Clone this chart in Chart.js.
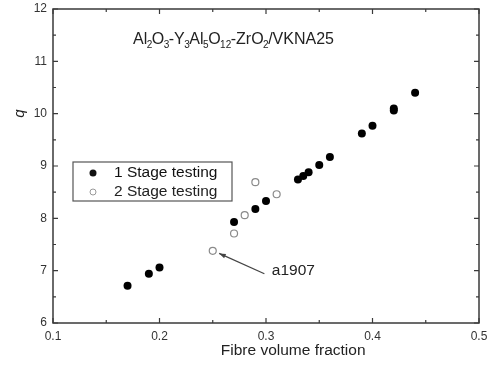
<!DOCTYPE html>
<html>
<head>
<meta charset="utf-8">
<script src="https://cdn.jsdelivr.net/npm/chart.js@4"></script>
<style>
  html, body { margin: 0; padding: 0; background: #fff; }
  #wrap { width: 487px; height: 365px; }
</style>
</head>
<body>
<div id="wrap"><canvas id="chart" width="487" height="365"></canvas></div>
<script>
// values
const stage1X = [0.17, 0.19, 0.20, 0.27, 0.29, 0.30, 0.33, 0.335, 0.34, 0.35, 0.36, 0.39, 0.40, 0.42, 0.42, 0.44];
const stage1Y = [6.71, 6.94, 7.06, 7.93, 8.18, 8.33, 8.74, 8.81, 8.88, 9.02, 9.17, 9.62, 9.77, 10.06, 10.10, 10.40];
const stage2X = [0.25, 0.27, 0.28, 0.29, 0.31];
const stage2Y = [7.38, 7.71, 8.06, 8.69, 8.46];
const seriesNames = ['1 Stage testing', '2 Stage testing'];
const xRange = [0.1, 0.5];
const yRange = [6, 12];

const FONT = '"Liberation Sans", Arial, sans-serif';
const AXIS = '#3a3a3a';

const toPoints = (xs, ys) => xs.map((x, i) => ({ x: x, y: ys[i] }));

// frame, inward ticks on all sides, legend box, labels and arrow
const decorations = {
  id: 'decorations',
  afterDraw(chart) {
    const { ctx, chartArea: a, scales } = chart;
    const xs = scales.x, ys = scales.y;
    ctx.save();
    ctx.strokeStyle = AXIS;
    ctx.lineWidth = 1.5;
    ctx.strokeRect(a.left, a.top, a.right - a.left, a.bottom - a.top);

    ctx.lineWidth = 1.2;
    xs.ticks.forEach(t => {
      const px = xs.getPixelForValue(t.value);
      const len = t.label ? 5 : 3;
      ctx.beginPath();
      ctx.moveTo(px, a.bottom); ctx.lineTo(px, a.bottom - len);
      ctx.moveTo(px, a.top); ctx.lineTo(px, a.top + len);
      ctx.stroke();
    });
    ys.ticks.forEach(t => {
      const py = ys.getPixelForValue(t.value);
      const len = t.label ? 5 : 3;
      ctx.beginPath();
      ctx.moveTo(a.left, py); ctx.lineTo(a.left + len, py);
      ctx.moveTo(a.right, py); ctx.lineTo(a.right - len, py);
      ctx.stroke();
    });

    // axis titles
    ctx.fillStyle = '#222';
    ctx.font = '15.5px ' + FONT;
    ctx.textAlign = 'center';
    ctx.textBaseline = 'middle';
    ctx.fillText('Fibre volume fraction', xs.getPixelForValue(0.3255), 351);
    ctx.save();
    ctx.translate(20, ys.getPixelForValue(10));
    ctx.rotate(-Math.PI / 2);
    ctx.font = 'italic 15px ' + FONT;
    ctx.fillText('q', 0, 0);
    ctx.restore();

    // composition label with subscripts
    const parts = [['Al', 0], ['2', 1], ['O', 0], ['3', 1], ['-Y', 0], ['3', 1], ['Al', 0], ['5', 1],
      ['O', 0], ['12', 1], ['-ZrO', 0], ['2', 1], ['/VKNA25', 0]];
    let tx = 133;
    const ty = 44;
    ctx.textAlign = 'left';
    ctx.textBaseline = 'alphabetic';
    parts.forEach(([s, sub]) => {
      ctx.font = (sub ? '10px ' : '16px ') + FONT;
      ctx.fillText(s, tx, sub ? ty + 4 : ty);
      tx += ctx.measureText(s).width - 0.5;
    });

    // legend box
    ctx.strokeStyle = '#555';
    ctx.lineWidth = 1.2;
    ctx.strokeRect(73, 162, 159, 39);
    ctx.font = '15.5px ' + FONT;
    ctx.textBaseline = 'middle';
    ctx.fillStyle = '#111';
    ctx.beginPath(); ctx.arc(93, 173, 3.5, 0, Math.PI * 2); ctx.fill();
    ctx.fillText(seriesNames[0], 114, 173);
    ctx.strokeStyle = '#999';
    ctx.lineWidth = 1;
    ctx.beginPath(); ctx.arc(93, 192, 3, 0, Math.PI * 2); ctx.stroke();
    ctx.fillStyle = '#222';
    ctx.fillText(seriesNames[1], 114, 192);

    // annotation arrow
    const tipX = xs.getPixelForValue(0.256), tipY = ys.getPixelForValue(7.33);
    const tailX = xs.getPixelForValue(0.2985), tailY = ys.getPixelForValue(6.94);
    ctx.strokeStyle = '#444';
    ctx.fillStyle = '#444';
    ctx.lineWidth = 1.2;
    ctx.beginPath(); ctx.moveTo(tailX, tailY); ctx.lineTo(tipX, tipY); ctx.stroke();
    const ang = Math.atan2(tipY - tailY, tipX - tailX);
    ctx.beginPath();
    ctx.moveTo(tipX, tipY);
    ctx.lineTo(tipX - 7 * Math.cos(ang - 0.35), tipY - 7 * Math.sin(ang - 0.35));
    ctx.lineTo(tipX - 7 * Math.cos(ang + 0.35), tipY - 7 * Math.sin(ang + 0.35));
    ctx.closePath();
    ctx.fill();
    ctx.fillStyle = '#222';
    ctx.font = '15.5px ' + FONT;
    ctx.textAlign = 'left';
    ctx.fillText('a1907', xs.getPixelForValue(0.3055), ys.getPixelForValue(6.99));
    ctx.restore();
  }
};

const majorOnly = (v, step) => {
  const r = v / step;
  return Math.abs(r - Math.round(r)) < 1e-6;
};

new Chart(document.getElementById('chart'), {
  type: 'scatter',
  data: {
    datasets: [
      {
        label: seriesNames[0],
        data: toPoints(stage1X, stage1Y),
        pointRadius: 4,
        pointBackgroundColor: '#000',
        pointBorderColor: '#000',
        pointBorderWidth: 0
      },
      {
        label: seriesNames[1],
        data: toPoints(stage2X, stage2Y),
        pointRadius: 3.5,
        pointBackgroundColor: 'rgba(0,0,0,0)',
        pointBorderColor: '#8a8a8a',
        pointBorderWidth: 1.2
      }
    ]
  },
  options: {
    responsive: false,
    animation: false,
    layout: { padding: { top: 9, right: 8, left: 0, bottom: 0 } },
    plugins: { legend: { display: false }, tooltip: { enabled: false } },
    scales: {
      x: {
        type: 'linear',
        min: xRange[0],
        max: xRange[1],
        grid: { display: false, drawTicks: false },
        border: { display: false },
        afterFit: scale => {
          scale.height = 42;
          scale.paddingLeft = 0;
          scale.paddingRight = 0;
        },
        ticks: {
          stepSize: 0.05,
          autoSkip: false,
          maxRotation: 0,
          padding: 6,
          color: '#333',
          font: { family: FONT, size: 12 },
          callback: v => (majorOnly(v, 0.1) ? v.toFixed(1) : '')
        }
      },
      y: {
        type: 'linear',
        min: yRange[0],
        max: yRange[1],
        grid: { display: false, drawTicks: false },
        border: { display: false },
        afterFit: scale => {
          scale.width = 53;
          scale.paddingTop = 0;
          scale.paddingBottom = 0;
        },
        ticks: {
          stepSize: 0.5,
          autoSkip: false,
          padding: 6,
          color: '#333',
          font: { family: FONT, size: 12 },
          callback: v => (majorOnly(v, 1) ? String(Math.round(v)) : '')
        }
      }
    }
  },
  plugins: [decorations]
});
</script>
</body>
</html>
